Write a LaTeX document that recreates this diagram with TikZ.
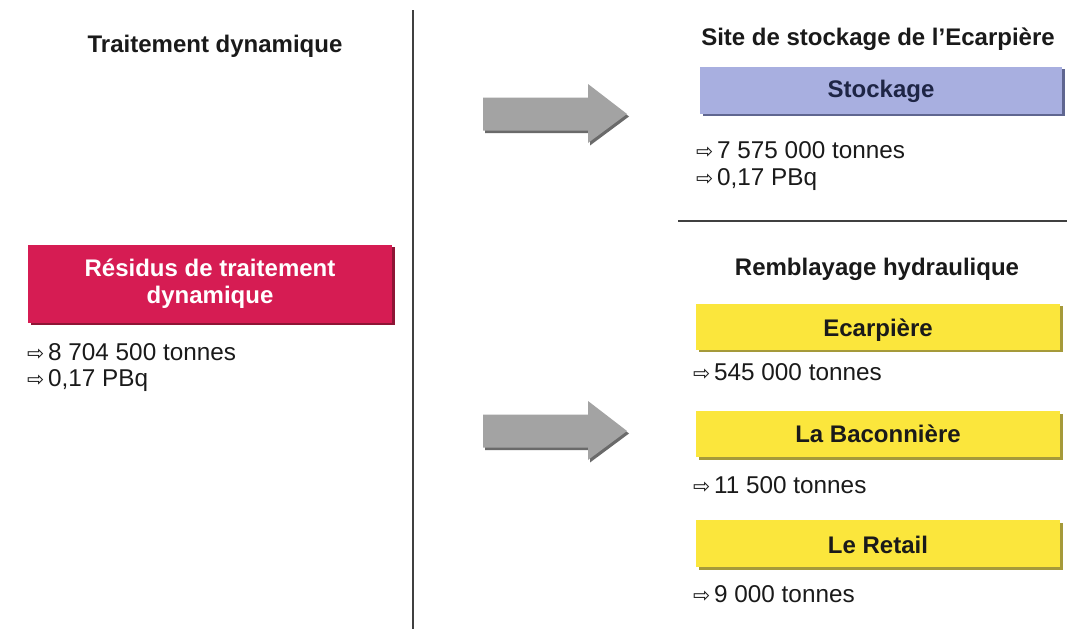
\documentclass[tikz,border=0pt]{standalone}
\usepackage{fontspec}
\setmainfont{Liberation Sans}
\newfontfamily\arrowfont{DejaVu Sans}
\usetikzlibrary{shadows}
\definecolor{redbox}{HTML}{D61C53}
\definecolor{redshadow}{HTML}{8E1535}
\definecolor{bluebox}{HTML}{A8AFE0}
\definecolor{blueshadow}{HTML}{5F6690}
\definecolor{yellowbox}{HTML}{FBE63C}
\definecolor{yellowshadow}{HTML}{A59A3A}
\definecolor{arrowgrey}{HTML}{A3A3A3}
\definecolor{arrowshadow}{HTML}{6A6A6A}
\definecolor{navy}{HTML}{1E2545}
\definecolor{ink}{HTML}{1A1A1A}
\newcommand{\bul}{\makebox[21pt][l]{\arrowfont\fontsize{20.5}{22}\selectfont ⇨}}
\begin{document}
\begin{tikzpicture}[x=1pt,y=-1pt,
  heading/.style={font=\fontsize{24}{28}\selectfont\bfseries, text=ink, anchor=base, inner sep=0pt},
  body/.style={font=\fontsize{24.3}{26}\selectfont, text=ink, anchor=base west, inner sep=0pt},
  boxbase/.style={rectangle, inner sep=0pt, text height=18pt, text depth=4pt,
    font=\fontsize{24}{27}\selectfont\bfseries},
  redstyle/.style={rectangle, inner sep=0pt, font=\fontsize{24}{27}\selectfont\bfseries,
    fill=redbox, text=white, align=center,
    general shadow={fill=redshadow, shadow xshift=2.5pt, shadow yshift=-2.5pt}},
  bluestyle/.style={boxbase, fill=bluebox, text=navy,
    general shadow={fill=blueshadow, shadow xshift=2.5pt, shadow yshift=-2.5pt}},
  yellowstyle/.style={boxbase, fill=yellowbox, text=ink,
    general shadow={fill=yellowshadow, shadow xshift=2.5pt, shadow yshift=-2.5pt}},
  rule/.style={draw=black!75, line width=1.1pt}
]
\useasboundingbox[fill=white] (0,0) rectangle (1067,629);

% separators
\coordinate (vtop) at (413,10);
\coordinate (vbot) at (413,629);
\draw[rule] (vtop) -- (vbot);
\coordinate (hl) at (678,221);
\coordinate (hr) at (1067,221);
\draw[rule] (hl) -- (hr);

% left column
\node[heading] (tleft) at (215,52) {Traitement dynamique};
\node[redstyle, minimum width=364pt, minimum height=78pt] (res) at (210,283.5)
  {Résidus de traitement\\dynamique};
\node[body] (l1) at (27,360) {\bul 8 704 500 tonnes};
\node[body] (l2) at (27,386) {\bul 0,17 PBq};

% right column, storage
\node[heading] (tright) at (878,45) {Site de stockage de l’Ecarpière};
\node[bluestyle, minimum width=362pt, minimum height=47pt] (stock) at (881,90) {Stockage};
\node[body] (s1) at (696,158) {\bul 7 575 000 tonnes};
\node[body] (s2) at (696,185) {\bul 0,17 PBq};

% right column, backfill
\node[heading] (trem) at (877,275) {Remblayage hydraulique};
\node[yellowstyle, minimum width=364pt, minimum height=46pt] (eca) at (878,326.5) {\raisebox{-3pt}{Ecarpière}};
\node[body] (e1) at (693,380) {\bul 545 000 tonnes};
\node[yellowstyle, minimum width=364pt, minimum height=46pt] (bac) at (878,434) {\raisebox{-1pt}{La Baconnière}};
\node[body] (b1) at (693,493) {\bul 11 500 tonnes};
\node[yellowstyle, minimum width=364pt, minimum height=47pt] (ret) at (878,543.5) {\raisebox{-3pt}{Le Retail}};
\node[body] (r1) at (693,602) {\bul 9 000 tonnes};

% block arrows
\foreach \cy/\nm in {114/a, 431/b}{
  \begin{scope}[shift={(2,2.5)}]
    \fill[arrowshadow] (483,\cy-16.5) -- (588,\cy-16.5) -- (588,\cy-30) -- (627,\cy) -- (588,\cy+29) -- (588,\cy+16.5) -- (483,\cy+16.5) -- cycle;
  \end{scope}
  \fill[arrowgrey] (483,\cy-16.5) coordinate (\nm1) -- (588,\cy-16.5) -- (588,\cy-30) -- (627,\cy) coordinate (\nm tip) -- (588,\cy+29) -- (588,\cy+16.5) -- (483,\cy+16.5) -- cycle;
}
\end{tikzpicture}
\end{document}
